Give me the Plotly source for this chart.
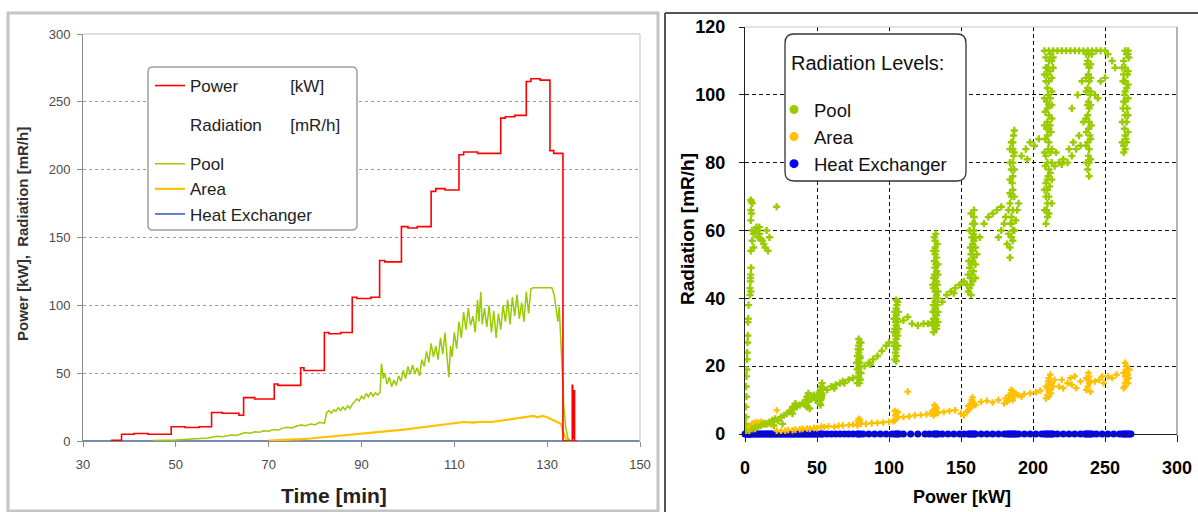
import plotly.graph_objects as go

W, H = 1198, 512
FONT = "Liberation Sans, Arial, sans-serif"

# ---------------- left chart data (time series) ----------------
power_t = [36.0, 38.3, 41.0, 44.0, 49.0, 52.0, 55.0, 57.7, 60.0, 63.6, 64.6, 67.0, 71.2, 72.0,
           76.9, 77.6, 82.0, 83.0, 85.5, 88.0, 89.0, 92.0, 93.9, 95.0, 98.6, 100.0, 102.0,
           105.0, 106.0, 108.0, 111.0, 112.0, 115.0, 120.0, 121.0, 123.0, 125.5, 126.5, 128.5,
           130.6, 131.4, 133.4, 135.3, 135.4, 135.5, 135.8, 135.9, 136.4]
power_v = [0.5, 5, 5.5, 5, 10.5, 10, 10.5, 21, 20.5, 19, 32, 31, 42, 41,
           54, 52, 80, 79, 80, 106, 105, 106, 133, 132, 158, 157, 158,
           184, 186, 185, 211, 213, 212, 238, 239, 240, 265, 267, 266,
           214, 212, 0, 0, 41, 2, 37, 0, 0]

pool_t = [45, 46, 47, 48, 49, 50, 51, 52, 53, 54, 55, 56, 57, 58, 59, 60, 61, 62, 63, 64, 65, 66,
          67, 68, 69, 70, 71, 72, 73, 74, 75, 76, 77, 78, 79, 80, 81, 82,
          82.5, 83, 83.5, 84, 84.5, 85, 85.5, 86, 86.5, 87, 87.5, 88, 88.5, 89, 89.5, 90, 90.5,
          91, 91.5, 92, 92.5, 93, 93.5, 94,
          94.3, 94.7, 95, 95.5, 96, 96.5, 97, 97.5, 98, 98.5, 99, 99.5, 100, 100.5, 101, 101.5,
          102, 102.5, 103, 103.5, 104, 104.5, 105, 105.5, 106, 106.5, 107, 107.5, 108, 108.5,
          108.8, 109.2, 109.5, 110, 110.5, 111, 111.5, 112, 112.5, 113, 113.5, 114, 114.5, 115,
          115.3, 115.7, 116, 116.5, 117, 117.5, 118, 118.5, 119, 119.5, 120, 120.5, 121, 121.5,
          122, 122.5, 123, 123.5, 124, 124.5, 125, 125.5, 126, 126.5, 127, 128, 129, 130, 131,
          131.5, 132, 132.3, 132.6, 133, 133.3, 133.6, 134, 134.5, 135]
pool_v = [0.3, 0.3, 0.5, 0.5, 0.8, 0.7, 1.0, 1.2, 1.0, 1.5, 1.8, 1.6, 2.2, 3.0, 3.5, 3.2, 4.0, 4.4,
          4.0, 5.0, 6.2, 5.8, 6.8, 6.5, 7.5, 7.2, 8.4, 8.0, 9.5, 10.2, 9.6, 11.0, 11.8, 11.2, 12.6,
          12.0, 13.8, 13.0,
          21, 22.5, 20.5, 23, 22, 24.5, 22.5, 25, 23, 26, 24, 27, 29, 31, 29.5, 33, 31,
          35, 32.5, 36, 33, 35.5, 34, 36,
          57, 46, 50, 42, 47, 40, 45, 41, 48, 44, 52, 46, 55, 49, 56, 50,
          54, 48, 60, 55, 66, 58, 72, 62, 70, 60, 76, 64, 80, 58,
          47, 70, 62, 80, 68, 88, 76, 95, 82, 98, 85, 92, 80, 104,
          88, 110, 86, 98, 84, 100, 80, 96, 76, 94, 82, 100, 88, 104,
          86, 106, 92, 108, 90, 102, 88, 110, 94, 112, 113, 113, 113, 113, 113,
          108, 95, 88, 99, 70, 50, 25, 10, 2, 0]

area_t = [70, 72, 74, 76, 78, 80, 82, 84, 86, 88, 90, 92, 94, 96, 98, 100, 102, 104, 106, 108,
          110, 112, 114, 116, 118, 120, 122, 124, 126, 127, 128, 129, 130, 131, 132, 133, 133.5,
          134, 134.5, 135]
area_v = [0.3, 0.5, 0.8, 1.2, 1.5, 2.2, 2.8, 3.5, 4.2, 4.8, 5.5, 6.0, 6.8, 7.4, 8.0, 8.8, 9.6,
          10.4, 11.2, 12.0, 12.8, 14.0, 13.6, 14.2, 14.0, 15.0, 16.0, 16.5, 17.5, 18.5, 17.5,
          18.5, 17.5, 16.0, 14.5, 12.5, 6, 2, 0.5, 0]

hx_t = [30, 150]
hx_v = [0, 0]

# ---------------- right chart data (radiation vs power) ----------------
pool_startup = [(0.5, 1), (0.5, 3), (0.8, 5), (0.6, 8), (1, 11), (0.8, 14), (1, 17), (1.2, 19),
                (1.5, 22), (1.5, 24), (1.8, 27), (2, 29), (2, 33), (2.2, 34), (2.5, 38),
                (3.5, 41), (3.5, 43), (3.8, 45), (4, 47), (4.2, 49), (4, 42), (3.8, 46)]
pool_early = [(4, 69), (4.5, 68.5), (5, 68), (4, 66), (4.5, 65), (4, 63), (5, 60), (6, 59),
              (7, 60), (8, 59.5), (9, 60), (10, 59), (12, 57), (13, 56), (9, 58), (11, 57.5),
              (15, 60), (17, 58), (22, 67), (6, 55), (4, 54), (5, 57), (14, 55), (16, 54),
              (10, 61), (8, 61)]
pool_rise = [(5, 1.5), (7, 2), (9, 2), (11, 2.5), (13, 3), (15, 3), (17, 3.5), (19, 4), (21, 4.5),
             (23, 4), (25, 5), (27, 5.5), (29, 6), (31, 6.5), (32, 7), (33, 8), (34, 7.5),
             (35, 9), (33, 6), (36, 8), (38, 8.5), (40, 9), (42, 10), (43, 11), (44, 12),
             (43, 8), (44, 9.5), (45, 7.5), (46, 10.5), (47, 11), (48, 11.5), (44, 11),
             (42, 8.5), (49, 10), (50, 11), (20, 2.5), (26, 3)]
pool_p53 = [(52, 9), (52.5, 10), (53, 11), (53, 12), (52.5, 13), (53, 14), (53.5, 15), (52, 12.5),
            (53, 10.5), (54, 13.5), (53.5, 11.5), (52.5, 8.5), (57, 13), (60, 14), (63, 14.5),
            (66, 15), (69, 15), (72, 16), (75, 16.5), (62, 13.5), (68, 15.5)]
pool_p80 = [(78, 15), (78.5, 17), (79, 18), (79, 19.5), (78.5, 21), (79, 22), (79.5, 23), (79, 24),
            (78.5, 25), (79, 26), (79.5, 27), (79, 28), (80, 16), (80, 20), (80, 22.5), (78, 19),
            (78, 23), (80, 25), (79, 16.5), (79.5, 21),
            (83, 20), (86, 21), (89, 22), (92, 23), (95, 24.5), (98, 26), (100, 27), (87, 20.5)]
pool_p106 = [(104, 22), (104.5, 24), (105, 25), (104, 27), (105, 28), (104.5, 29), (105.5, 30),
             (104, 31), (105, 32), (104.5, 33), (105.5, 34), (105, 35), (104, 36), (105, 37),
             (105.5, 38), (105, 39.5), (106, 26), (106, 29), (106, 33), (103.5, 30), (103.5, 26),
             (106.5, 31), (105, 23),
             (110, 33.5), (113, 34.5), (116, 32.5), (120, 32), (124, 32.5), (127, 32.5), (130, 33)]
pool_p133 = [(131, 30), (132, 31), (133, 32), (131.5, 33), (132.5, 34), (133, 35), (131, 36),
             (132, 37), (133.5, 38), (132, 39), (131.5, 40), (133, 41), (132, 42), (131, 43),
             (132.5, 44), (133, 45), (132, 46), (131.5, 47), (133, 48), (132, 49), (132.5, 50),
             (131.5, 51), (133, 52), (132, 53), (132.5, 54), (132, 55), (132, 57), (132.5, 59),
             (131, 34), (134, 33), (134, 36), (130.5, 32), (133, 31), (131, 38), (134, 40),
             (133.5, 44), (131, 46), (134, 47),
             (137, 39), (140, 41), (143, 42), (146, 43), (149, 44), (152, 45), (145, 41.5)]
pool_p158 = [(155, 42), (156, 43), (157, 44), (158, 45), (156.5, 46), (157.5, 47), (158.5, 48),
             (156, 49), (157, 50), (158, 51), (159, 52), (157, 53), (158, 54), (156.5, 55),
             (158, 56), (159, 57), (157.5, 58), (158.5, 59), (159, 60), (158, 62), (159, 64),
             (159, 66), (160, 50), (160, 55), (155, 47), (154, 44), (161, 53), (157, 41),
             (163, 58), (166, 62), (169, 64), (172, 65), (175, 66), (178, 67)]
pool_p185 = [(176, 58), (178, 60), (180, 62), (182, 56), (181, 64), (184, 52), (184, 55),
             (185, 58), (186, 60), (184.5, 62), (185, 64), (186, 66), (184, 68), (185, 70),
             (186, 72), (185.5, 74), (186, 76), (185, 78), (186, 80), (186.5, 82), (186, 84),
             (186, 86), (186.5, 88), (187, 89.5), (183, 66), (187, 70), (184, 75), (188, 63),
             (183, 59), (187, 60), (189, 66), (190, 68),
             (192, 82), (195, 84), (198, 86), (201, 85), (204, 87), (196, 81)]
pool_p212 = [(209, 62), (210, 64), (209.5, 66), (210, 68), (211, 70), (210, 72), (209, 74),
             (210.5, 76), (211, 78), (210, 80), (209, 82), (210.5, 84), (211, 86), (210, 88),
             (209.5, 90), (210, 92), (211, 94), (210, 96), (209.5, 98), (210.5, 100), (210, 102),
             (211, 104), (210, 106), (210.5, 108), (211, 110), (212, 112), (209, 70), (211.5, 73),
             (212, 77), (208.5, 79), (212, 83), (208.5, 87), (212, 91), (208.5, 95), (212, 99),
             (209, 104), (212, 107), (213, 101), (211, 65), (212.5, 89), (213, 84), (214, 108),
             (214, 111)]
pool_top = [(208, 113), (211, 113), (214, 113), (217, 113), (220, 113), (223, 113), (226, 113),
            (229, 113), (232, 113), (235, 113), (238, 113), (241, 113), (244, 113), (247, 113),
            (250, 113), (264, 113), (266, 113)]
pool_p239 = [(215, 79), (218, 80), (221, 81), (224, 80), (227, 82), (230, 84), (233, 85),
             (216, 83), (220, 79.5), (225, 84), (228, 86), (232, 88), (235, 92), (227, 96),
             (231, 100), (234, 104),
             (238, 78), (239, 80), (238.5, 82), (239, 84), (238, 86), (239.5, 88), (238.5, 90),
             (239, 92), (238, 94), (239, 96), (238.5, 98), (239.5, 100), (238, 102), (239, 104),
             (238.5, 106), (239, 108), (238, 110), (239, 112), (237, 85), (240, 87), (237, 93),
             (240, 97), (237, 101), (240, 105), (237.5, 109), (240.5, 91), (239, 76),
             (243, 100), (245, 99), (247, 104), (250, 105), (255, 110), (257, 108), (252, 112)]
pool_p265 = [(263, 83), (264, 84), (263, 85), (265, 86), (264, 88), (263.5, 90), (265, 92),
             (264, 94), (265.5, 96), (264, 98), (263.5, 100), (265, 102), (264, 104),
             (265.5, 106), (264, 108), (263, 110), (265, 112), (266, 99), (266, 103), (266, 107),
             (262.5, 96), (262.5, 104), (266.5, 111), (264.5, 87), (264, 101)]
pool_fill = [(208, 66), (208, 72), (208, 83), (208, 91), (208, 99), (208, 106), (213, 68),
             (213, 75), (213, 80), (213, 93), (213, 97), (213, 105), (213, 110), (211, 97),
             (209, 108), (209, 111), (210, 75), (211, 90),
             (184, 80), (184, 84), (187, 78), (187, 83), (185, 86), (185, 62), (186, 57), (184, 71),
             (237, 80), (240, 81), (237, 89), (240, 101), (237, 105), (240, 109), (241, 112),
             (237, 112), (238, 97),
             (262, 86), (266, 89), (262, 92), (266, 94), (263, 98), (266, 112), (262, 108),
             (263, 106),
             (130.5, 36), (134, 42), (130.5, 44), (134, 50), (131, 54), (133.5, 56), (131.5, 58),
             (155.5, 51), (160, 58), (156, 60), (160, 46), (159.5, 62), (157, 65),
             (105, 21.5), (106.5, 36), (103.5, 34), (106, 39),
             (79.5, 15), (80.5, 18), (77.5, 21), (80.5, 27)]

area_low = [(1, 1), (2, 1.5), (3, 2), (4, 2.5), (5, 3), (6, 3.2), (7, 2.8), (8, 3.5), (9, 3),
            (10, 3.2), (11, 3.6), (12, 3), (13, 3.3), (14, 2.8), (15, 3.2), (16, 3), (18, 2.8),
            (19, 4), (20, 3.5), (22, 7), (3, 1), (5, 1.8), (7, 1.5), (9, 2.2),
            (22, 1), (25, 0.8), (28, 1), (30, 1.2), (33, 1.1), (35, 1.3), (38, 1.4), (40, 1.5),
            (43, 1.6), (45, 1.5), (48, 1.8), (50, 1.7),
            (53, 2.2), (55, 2), (58, 2.3), (62, 2.1), (65, 2.4), (68, 2.5), (72, 2.6), (75, 2.8)]
area_mid = [(78, 2.5), (79, 3), (79.5, 3.5), (80, 4.2), (79, 4.5), (78.5, 3.8), (80.5, 3),
            (84, 3), (88, 3.2), (92, 3.3), (96, 3.4), (100, 3.6),
            (104, 4), (105, 4.5), (105.5, 5), (104.5, 5.5), (105, 6), (106, 6.5), (104, 6.8),
            (106, 5), (103, 3.8), (113, 12.5),
            (110, 5), (114, 5.2), (118, 5.5), (122, 5.6), (126, 5.8), (129, 6),
            (131, 5.5), (132, 6), (133, 6.5), (132, 7), (133, 7.5), (132.5, 8), (131.5, 8.5),
            (134, 6.2), (130, 6.8), (138, 6.5), (142, 6.8), (146, 7), (150, 6), (152, 5.5)]
area_high = [(154, 6.5), (155, 7), (156, 7.5), (157, 8), (156, 8.5), (157, 9), (158, 9.5),
             (157.5, 10), (158, 10.8), (159, 9), (160, 8.5), (155, 8.2),
             (164, 9.5), (168, 9.8), (172, 9.3), (176, 10),
             (180, 9), (182, 9.5), (183, 10), (184, 10.5), (185, 11), (184, 11.5), (185.5, 12),
             (186, 12.5), (185, 13), (186, 10), (187, 11), (183, 11.3), (188, 12), (181, 10.5),
             (190, 11.5), (194, 11.8), (198, 12), (202, 12.3), (205, 12.8), (192, 11),
             (209, 10.5), (210, 11.5), (211, 12.5), (210, 13.5), (211, 14.5), (210.5, 15.5),
             (211, 16.5), (212, 17.5), (211, 11), (212, 13), (213, 15), (209, 14), (212.5, 12),
             (214, 14), (215, 16),
             (218, 14), (221, 13.5), (224, 15), (227, 14.5), (230, 13.5), (233, 15.5), (220, 16),
             (226, 16.5), (229, 17),
             (237, 13), (238, 14), (239, 15), (238, 16), (239, 17), (238.5, 18), (240, 12.5),
             (237, 16.5), (240, 15.5),
             (243, 15.5), (246, 16), (249, 15), (252, 17), (255, 16.5), (258, 17.5), (248, 17),
             (263, 13.5), (264, 15), (265, 16), (264, 17), (265, 18), (264.5, 19), (265, 20),
             (264, 21), (266, 15), (266, 17.5), (267, 19), (263, 18), (266.5, 16.5), (263.5, 14)]

hx_power = [0, 0.5, 1, 1.5, 2, 2.5, 3, 3.5, 4, 5, 6, 7, 8, 9, 10, 11, 12, 13, 14, 15, 16, 17, 18,
            19, 20, 21, 22, 23, 24, 25, 26, 27, 28, 29, 30, 31, 32, 33, 34, 35, 36, 37, 38, 39,
            40, 41, 42, 43, 44, 45, 46, 47, 48, 49, 50, 52, 53, 54, 57, 60, 63, 66, 69, 72, 75,
            78, 79, 80, 82, 86, 90, 94, 98, 102, 104, 105, 106, 107, 110, 115, 120, 125, 128,
            131, 132, 133, 134, 137, 141, 145, 149, 152, 155, 156, 157, 158, 159, 160, 164, 168,
            172, 176, 180, 182, 183, 184, 185, 186, 187, 188, 190, 194, 198, 202, 206, 208, 209,
            210, 211, 212, 213, 214, 217, 221, 225, 229, 233, 236, 237, 238, 239, 240, 241, 244,
            248, 252, 256, 260, 262, 263, 264, 265, 266, 267, 268]
hx_rad = [0 for _ in hx_power]

left_x_ticks = [30, 50, 70, 90, 110, 130, 150]
left_y_ticks = [0, 50, 100, 150, 200, 250, 300]
right_x_ticks = [0, 50, 100, 150, 200, 250, 300]
right_y_ticks = [0, 20, 40, 60, 80, 100, 120]

C_RED = "#ff0000"
C_GREEN = "#99cc00"
C_YEL = "#ffc000"
C_BLUE_L = "#3a5fcd"
C_BLUE_R = "#0000ff"


def px(x):
    return x / W


def py(y):
    return 1 - y / H


def unzip(*groups):
    xs, ys = [], []
    for g in groups:
        for a, b in g:
            xs.append(a)
            ys.append(b)
    return xs, ys


pool_p, pool_r = unzip(pool_startup, pool_early, pool_rise, pool_p53, pool_p80, pool_p106,
                       pool_p133, pool_p158, pool_p185, pool_p212, pool_top, pool_p239, pool_p265,
                       pool_fill)
area_p, area_r = unzip(area_low, area_mid, area_high)

fig = go.Figure()

# left chart traces
fig.add_trace(go.Scatter(x=hx_t, y=hx_v, mode="lines", line=dict(color=C_BLUE_L, width=1.6),
                         name="Heat Exchanger", legendgroup="c", legendrank=5,
                         xaxis="x", yaxis="y"))
fig.add_trace(go.Scatter(x=area_t, y=area_v, mode="lines", line=dict(color=C_YEL, width=2.2),
                         name="Area", legendgroup="c", legendrank=4, xaxis="x", yaxis="y"))
fig.add_trace(go.Scatter(x=pool_t, y=pool_v, mode="lines", line=dict(color=C_GREEN, width=1.5),
                         name="Pool", legendgroup="c", legendrank=3, xaxis="x", yaxis="y"))
fig.add_trace(go.Scatter(x=power_t, y=power_v, mode="lines", line=dict(color=C_RED, width=1.6, shape="hv"),
                         name="Power" + "\u00a0" * 11 + "[kW]", legendgroup="a", legendrank=1,
                         xaxis="x", yaxis="y"))
fig.add_trace(go.Scatter(x=[None], y=[None], mode="lines", line=dict(color="rgba(0,0,0,0)", width=1),
                         name="Radiation" + "\u00a0" * 6 + "[mR/h]", legendgroup="b", legendrank=2,
                         xaxis="x", yaxis="y"))

# right chart traces
fig.add_trace(go.Scatter(x=hx_power, y=hx_rad, mode="markers", cliponaxis=False,
                         marker=dict(symbol="circle", size=7, color=C_BLUE_R),
                         showlegend=False, xaxis="x2", yaxis="y2"))
fig.add_trace(go.Scatter(x=area_p, y=area_r, mode="markers",
                         marker=dict(symbol="cross", size=5.5, color=C_YEL),
                         showlegend=False, xaxis="x2", yaxis="y2"))
fig.add_trace(go.Scatter(x=pool_p, y=pool_r, mode="markers",
                         marker=dict(symbol="cross", size=6, color=C_GREEN),
                         showlegend=False, xaxis="x2", yaxis="y2"))
for nm, col, rk in [("Pool", C_GREEN, 1), ("Area", C_YEL, 2), ("Heat Exchanger", C_BLUE_R, 3)]:
    fig.add_trace(go.Scatter(x=[None], y=[None], mode="markers", name=nm, legendrank=rk,
                             marker=dict(symbol="circle", size=9, color=col),
                             legend="legend2", xaxis="x2", yaxis="y2"))


def rrect(x0, y0, x1, y1, r):
    rx, ry = r / W, r / H
    X0, X1 = px(x0), px(x1)
    Y0, Y1 = py(y1), py(y0)  # Y0 bottom, Y1 top
    return (f"M {X0+rx},{Y1} L {X1-rx},{Y1} Q {X1},{Y1} {X1},{Y1-ry} "
            f"L {X1},{Y0+ry} Q {X1},{Y0} {X1-rx},{Y0} L {X0+rx},{Y0} "
            f"Q {X0},{Y0} {X0},{Y0+ry} L {X0},{Y1-ry} Q {X0},{Y1} {X0+rx},{Y1} Z")


def line(x0, y0, x1, y1, color, width):
    return dict(type="line", xref="paper", yref="paper", x0=px(x0), y0=py(y0), x1=px(x1),
                y1=py(y1), line=dict(color=color, width=width), layer="above")


shapes = [
    # panel frames
    dict(type="rect", xref="paper", yref="paper", x0=px(8), y0=py(511), x1=px(658), y1=py(13),
         line=dict(color="#c4c4c4", width=3), layer="below"),
    line(665, 13, 665, 512, "#555555", 2),
    line(665, 13, 1198, 13, "#555555", 2),
    # plot area borders
    line(83, 34, 640, 34, "#d4d4d4", 1.5),
    line(640, 34, 640, 441, "#d4d4d4", 1.5),
    line(745, 27, 1177, 27, "#c8c8c8", 1.2),
    line(1177, 27, 1177, 434, "#9a9a9a", 1.5),
    # legend boxes
    dict(type="path", xref="paper", yref="paper", path=rrect(148, 67, 357, 230, 5),
         fillcolor="white", line=dict(color="#a0a0a0", width=1.5), layer="above"),
    dict(type="path", xref="paper", yref="paper", path=rrect(785, 34, 966, 181, 9),
         fillcolor="white", line=dict(color="#333333", width=1.3), layer="above"),
]

annotations = [
    dict(text="<b>Time [min]</b>", x=px(334), y=py(495), xref="paper", yref="paper",
         showarrow=False, font=dict(family=FONT, size=21, color="#222222"),
         xanchor="center", yanchor="middle"),
    dict(text="<b>Power [kW],  Radiation [mR/h]</b>", x=px(22), y=py(234), xref="paper",
         yref="paper", showarrow=False, textangle=-90,
         font=dict(family=FONT, size=15, color="#333333"), xanchor="center", yanchor="middle"),
    dict(text="<b>Power [kW]</b>", x=px(962), y=py(497), xref="paper", yref="paper",
         showarrow=False, font=dict(family=FONT, size=18, color="#000000"),
         xanchor="center", yanchor="middle"),
    dict(text="<b>Radiation [mR/h]</b>", x=px(687), y=py(229), xref="paper", yref="paper",
         showarrow=False, textangle=-90, font=dict(family=FONT, size=19, color="#000000"),
         xanchor="center", yanchor="middle"),
    dict(text="Radiation Levels:", x=px(789), y=py(63), xref="paper", yref="paper",
         showarrow=False, font=dict(family=FONT, size=20, color="#111111"),
         xanchor="left", yanchor="middle"),
]

fig.update_layout(
    width=W, height=H,
    margin=dict(l=0, r=0, t=0, b=0, autoexpand=False),
    paper_bgcolor="white", plot_bgcolor="white",
    font=dict(family=FONT),
    xaxis=dict(domain=[px(83), px(640)], range=[30, 150], tickvals=left_x_ticks,
               showgrid=False, zeroline=False, showline=True, linecolor="#8c8c8c",
               ticks="outside", ticklen=5, tickcolor="#8c8c8c", ticklabelstandoff=6,
               tickfont=dict(family=FONT, size=13, color="#4a4a4a"), anchor="y"),
    yaxis=dict(domain=[py(441), py(34)], range=[0, 300], tickvals=left_y_ticks,
               showgrid=True, gridcolor="#9a9a9a", griddash="dot", gridwidth=1,
               zeroline=False, showline=True, linecolor="#8c8c8c",
               ticks="outside", ticklen=5, tickcolor="#8c8c8c", ticklabelstandoff=4,
               tickfont=dict(family=FONT, size=13, color="#4a4a4a"), anchor="x"),
    xaxis2=dict(domain=[px(745), px(1177)], range=[0, 300], tickvals=right_x_ticks,
                showgrid=True, gridcolor="#111111", griddash="4px,3px", gridwidth=1,
                zeroline=False, showline=True, linecolor="#222222", linewidth=1.3,
                ticks="outside", ticklen=7, tickcolor="#222222", ticklabelstandoff=10,
                tickfont=dict(family=FONT, size=18, color="#000000", weight="bold"),
                anchor="y2"),
    yaxis2=dict(domain=[py(434), py(27)], range=[0, 120], tickvals=right_y_ticks,
                showgrid=True, gridcolor="#111111", griddash="4px,3px", gridwidth=1,
                zeroline=False, showline=True, linecolor="#222222", linewidth=1.3,
                ticks="outside", ticklen=5, tickcolor="#222222", ticklabelstandoff=10,
                tickfont=dict(family=FONT, size=18, color="#000000", weight="bold"),
                anchor="x2"),
    legend=dict(x=px(150), y=py(68), xanchor="left", yanchor="top",
                bgcolor="rgba(0,0,0,0)", borderwidth=0, traceorder="grouped",
                tracegroupgap=14, font=dict(family=FONT, size=17, color="#222222"),
                itemwidth=30),
    legend2=dict(x=px(774), y=py(91), xanchor="left", yanchor="top",
                 bgcolor="rgba(0,0,0,0)", borderwidth=0, tracegroupgap=0,
                 font=dict(family=FONT, size=18.5, color="#111111"), itemwidth=30),
    shapes=shapes,
    annotations=annotations,
)

fig.write_html("out.html", config={"displayModeBar": False},
               post_script="document.body.style.margin='0px';")
